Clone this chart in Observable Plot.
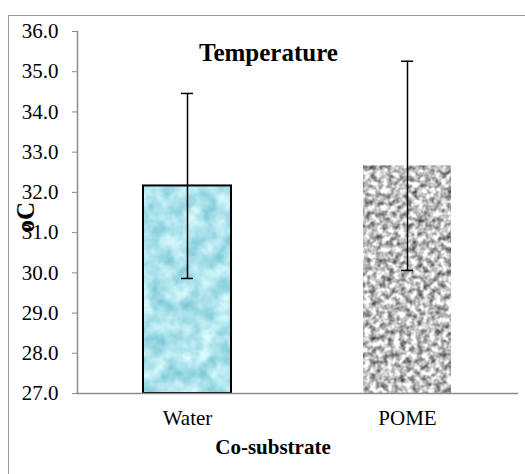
<!DOCTYPE html>
<html>
<head>
<meta charset="utf-8">
<script src="https://cdn.jsdelivr.net/npm/d3@7"></script>
<script src="https://cdn.jsdelivr.net/npm/@observablehq/plot@0.6"></script>
<style>
  html, body { margin: 0; padding: 0; background: #fff; overflow: hidden; }
  #wrap { position: relative; width: 525px; height: 474px; overflow: hidden; }
  #border { position: absolute; left: 8px; top: 15px; width: 700px; height: 700px;
            border-top: 1.5px solid #9a9a9a; border-left: 1.5px solid #9a9a9a; pointer-events: none; }
  #chart { position: absolute; left: 0; top: 0; }
  #chart svg, #chart svg text, #chart svg g { font-family: "Liberation Serif", "Times New Roman", serif !important; }
</style>
</head>
<body>
<div id="wrap"><div id="chart"></div><div id="border"></div></div>
<script>
// ---- data ----
const categories = ["Water", "POME"];
const means = [32.16, 32.66];
const errors = [2.30, 2.60];
const yDomain = [27, 36];
const yTicks = [27, 28, 29, 30, 31, 32, 33, 34, 35, 36];
const title = "Temperature";
const xLabel = "Co-substrate";
const yLabel = "oC";

// ---- styles ----
const patternFor = {Water: "url(#waterTex)", POME: "url(#pomeTex)"};
const outlineFor = {Water: "black", POME: "none"};
const axisGray = "#8c8c8c";

const data = categories.map((c, i) => ({
  cat: c, mean: means[i], lo: means[i] - errors[i], hi: means[i] + errors[i]
}));

function defs() {
  const d = d3.create("svg:defs");
  // POME grey noise
  const f1 = d.append("filter").attr("id", "pomeNoise").attr("x", 0).attr("y", 0).attr("width", 1).attr("height", 1)
    .attr("color-interpolation-filters", "sRGB");
  f1.append("feTurbulence").attr("type", "fractalNoise").attr("baseFrequency", 0.17).attr("numOctaves", 2).attr("seed", 4).attr("result", "n");
  f1.append("feColorMatrix").attr("in", "n").attr("type", "matrix")
    .attr("values", "1.3 0 0 0 0.1  1.3 0 0 0 0.1  1.3 0 0 0 0.1  0 0 0 0 1");
  const p1 = d.append("pattern").attr("id", "pomeTex").attr("patternUnits", "userSpaceOnUse")
    .attr("width", 525).attr("height", 474);
  p1.append("rect").attr("width", 525).attr("height", 474).attr("filter", "url(#pomeNoise)");
  // Water cyan texture
  const f2 = d.append("filter").attr("id", "waterNoise").attr("x", 0).attr("y", 0).attr("width", 1).attr("height", 1)
    .attr("color-interpolation-filters", "sRGB");
  f2.append("feTurbulence").attr("type", "fractalNoise").attr("baseFrequency", 0.06).attr("numOctaves", 3).attr("seed", 7).attr("result", "n");
  f2.append("feColorMatrix").attr("in", "n").attr("type", "matrix")
    .attr("values", "0.6 0 0 0 0.38  0.32 0 0 0 0.73  0.25 0 0 0 0.8  0 0 0 0 1");
  const p2 = d.append("pattern").attr("id", "waterTex").attr("patternUnits", "userSpaceOnUse")
    .attr("width", 525).attr("height", 474);
  p2.append("rect").attr("width", 525).attr("height", 474).attr("filter", "url(#waterNoise)");
  return d.node();
}

const chart = Plot.plot({
  width: 525,
  height: 474,
  marginLeft: 77,
  marginRight: 8,
  marginTop: 31,
  marginBottom: 81,
  style: {fontFamily: "Liberation Serif, serif", fontSize: "21px", background: "transparent", color: "black"},
  x: {type: "band", domain: categories, paddingInner: 0.6, paddingOuter: 0.3},
  y: {domain: yDomain},
  color: {type: "identity"},
  marks: [
    defs,
    Plot.barY(data, {x: "cat", y1: () => yDomain[0], y2: "mean",
      fill: d => patternFor[d.cat], stroke: d => outlineFor[d.cat], strokeWidth: 2}),
    Plot.frame({anchor: "left", stroke: axisGray, strokeWidth: 1.5}),
    Plot.frame({anchor: "bottom", stroke: axisGray, strokeWidth: 1.5}),
    Plot.axisY({ticks: yTicks, tickFormat: d3.format(".1f"), tickSize: 5, tickPadding: 14,
      stroke: axisGray, fill: "black", label: null, fontSize: 21, fontVariant: "normal"}),
    Plot.axisX({tickSize: 0, tickPadding: 17, fill: "black", label: null, fontSize: 21}),
    Plot.ruleX(data, {x: "cat", y1: "lo", y2: "hi", stroke: "black", strokeWidth: 1.5}),
    Plot.tickY(data, {x: "cat", y: "lo", insetLeft: 38, insetRight: 38, stroke: "black", strokeWidth: 1.5}),
    Plot.tickY(data, {x: "cat", y: "hi", insetLeft: 38, insetRight: 38, stroke: "black", strokeWidth: 1.5}),
    Plot.text([title], {frameAnchor: "top", dx: -29, dy: 29, lineAnchor: "bottom",
      fontSize: 25, fontWeight: "bold"}),
    Plot.text([xLabel], {frameAnchor: "bottom", dx: -24.5, dy: 60, lineAnchor: "bottom",
      fontSize: 21, fontWeight: "bold"}),
    Plot.text([yLabel], {frameAnchor: "left", dx: -52, dy: 20, rotate: -90,
      fontSize: 25, fontWeight: "bold"})
  ]
});
document.getElementById("chart").appendChild(chart);
</script>
</body>
</html>
